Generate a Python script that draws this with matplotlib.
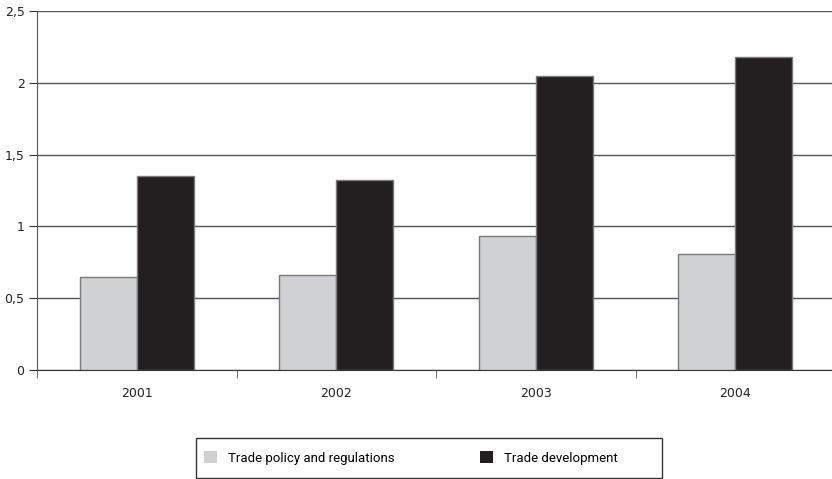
import numpy as np
import matplotlib.pyplot as plt
from matplotlib.ticker import FixedLocator
from matplotlib.patches import Rectangle

anos = ['2001', '2002', '2003', '2004']
politica = [0.65, 0.66, 0.93, 0.81]
desenvolvimento = [1.35, 1.32, 2.05, 2.18]
yticks = [0, 0.5, 1, 1.5, 2, 2.5]
ytick_labels = ['0', '0,5', '1', '1,5', '2', '2,5']

W, H = 832, 479
fig = plt.figure(figsize=(W / 100, H / 100), dpi=100)
ax = fig.add_axes([37 / W, 109 / H, 798 / W, 359 / H])

x = np.arange(len(anos))
w = 0.285
ax.bar(x - w / 2, politica, w, color='#d0d1d3', edgecolor='#7a7a7a', linewidth=1,
       label='Trade policy and regulations', zorder=3)
ax.bar(x + w / 2, desenvolvimento, w, color='#231f20', edgecolor='#7a7a7a', linewidth=1,
       label='Trade development', zorder=3)

ax.set_xlim(-0.5, 3.5)
ax.set_ylim(0, 2.5)
ax.set_yticks(yticks)
ax.set_yticklabels(ytick_labels)
ax.set_xticks(x)
ax.set_xticklabels(anos)
ax.xaxis.set_minor_locator(FixedLocator([-0.5, 0.5, 1.5, 2.5]))

ax.grid(axis='y', color='#555555', linewidth=1, zorder=0)
for s in ['top', 'right']:
    ax.spines[s].set_visible(False)
ax.spines['left'].set_color('#555555')
ax.spines['bottom'].set_color('#333333')

ax.tick_params(axis='y', length=6, color='#333333', labelsize=9, labelcolor='#222222', pad=3)
ax.tick_params(axis='x', which='major', length=0, labelsize=9, labelcolor='#222222', pad=12)
ax.tick_params(axis='x', which='minor', length=6, color='#555555')

# caixa da legenda desenhada à parte
fig.patches.append(Rectangle((196 / W, 1 - 478 / H), 466 / W, 40 / H, transform=fig.transFigure,
                             facecolor='white', edgecolor='#333333', linewidth=1))
leg = fig.legend(loc='center left', bbox_to_anchor=(204 / W, 1 - 458 / H), ncol=2,
                 frameon=False, prop={'family': 'Roboto', 'size': 9.5},
                 handlelength=1.0, handleheight=1.0, borderpad=0, borderaxespad=0,
                 columnspacing=6.5, handletextpad=0.8)
for h in leg.legend_handles:
    h.set_edgecolor('none')

fig.savefig('out.png', dpi=100)
